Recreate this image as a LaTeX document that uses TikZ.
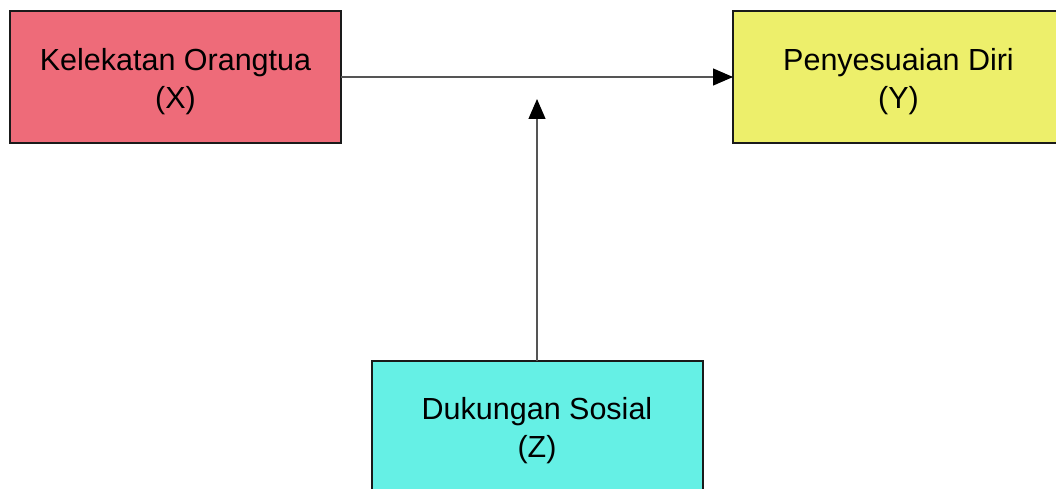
\documentclass[tikz,border=0pt]{standalone}
\usepackage{fontspec}
\setmainfont{Liberation Sans}
\usetikzlibrary{arrows.meta}
\definecolor{boxred}{HTML}{EE6B79}
\definecolor{boxyellow}{HTML}{EDEF6B}
\definecolor{boxcyan}{HTML}{65F0E5}
\definecolor{edgegray}{HTML}{555555}
\definecolor{border}{HTML}{1A1A1A}
\begin{document}
\begin{tikzpicture}[x=1pt,y=-1pt,
  varbox/.style={draw=border, line width=2pt, minimum width=331pt, minimum height=132pt,
    inner sep=0pt, outer sep=0pt},
  vartext/.style={align=center, inner sep=0pt, font=\fontsize{30.5}{38}\selectfont},
  link/.style={draw=edgegray, line width=1.2pt, -{Triangle[length=20pt,width=17pt,color=black]}}]
  \useasboundingbox (0,0) rectangle (1056,489);
  \clip (0,0) rectangle (1056,489);
  % variable boxes
  \node[varbox, fill=boxred] (x) at (175.5,77) {};
  \node[varbox, fill=boxyellow] (y) at (898.5,77) {};
  \node[varbox, fill=boxcyan] (z) at (537,427) {};
  % box captions
  \node[vartext] (xt) at ([yshift=-5pt]x.center) {Kelekatan Orangtua\\(X)};
  \node[vartext] (yt) at ([yshift=-5pt]y.center) {Penyesuaian Diri\\(Y)};
  \node[vartext] (zt) at ([yshift=-4pt]z.center) {Dukungan Sosial\\(Z)};
  % connectors
  \coordinate (m) at (537,99);
  \draw[link] (x.east) -- (y.west);
  \draw[link] (z.north) -- (m);
\end{tikzpicture}
\end{document}
